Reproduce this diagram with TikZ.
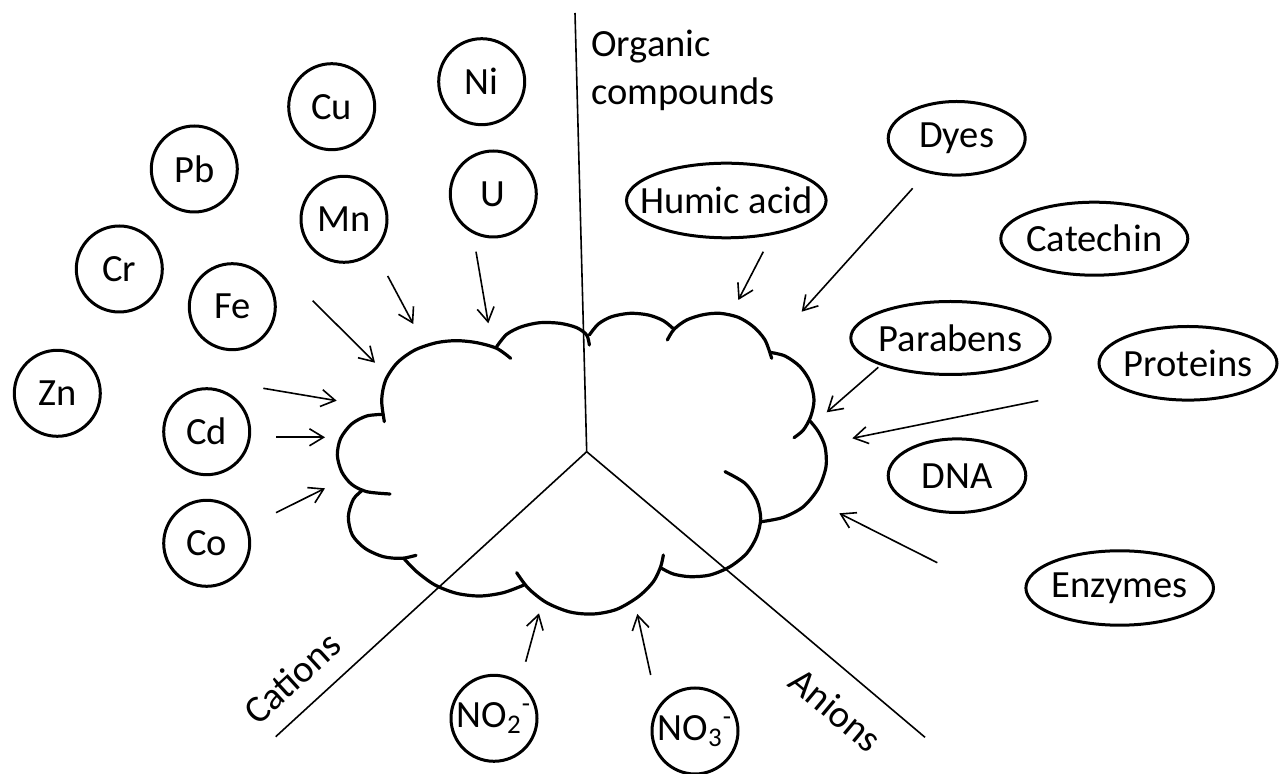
\documentclass[tikz,border=0pt]{standalone}
\usepackage{fontspec}
\setmainfont{Carlito}
\usetikzlibrary{arrows.meta,shapes.geometric}
\newcommand\mk[1]{\makebox[0pt]{#1}}
\begin{document}
\begin{tikzpicture}[x=0.5pt,y=-0.5pt,
  txt/.style={font=\fontsize{19.25}{23}\selectfont},
  elem/.style={circle, draw, line width=1.5pt, minimum size=43pt, inner sep=0pt, txt},
  org/.style={ellipse, draw, line width=1.5pt, inner sep=0pt, txt},
  lbl/.style={inner sep=0pt, txt},
  arr/.style={line width=0.8pt, -{Straight Barb[length=7pt,width=8.5pt]}},
  divider/.style={line width=0.8pt},
  cloudline/.style={line width=1.6pt, line cap=round}]
\path[fill=white] (0,0) rectangle (1281,774);
\useasboundingbox (0,0) rectangle (1281,774);

% cations
\node[elem] (Ni) at (481.7,81.7) {\mk{Ni}};
\node[elem] (Cu) at (331.7,106.7) {\mk{Cu}};
\node[elem] (Pb) at (194.3,169) {\mk{Pb}};
\node[elem] (Mn) at (344,219.3) {\mk{Mn}};
\node[elem] (U) at (493.3,194) {\mk{U}};
\node[elem] (Cr) at (119.3,269) {\mk{Cr}};
\node[elem] (Fe) at (232.3,306.7) {\mk{Fe}};
\node[elem] (Zn) at (57.3,393.3) {\mk{Zn}};
\node[elem] (Cd) at (206.7,431.7) {\mk{Cd}};
\node[elem] (Co) at (206.7,543.3) {\mk{Co}};
% anions
\node[elem] (NOtwo) at (494,718.3) {\mk{NO\textsubscript{2}\textsuperscript{-}}};
\node[elem] (NOthree) at (695,731) {\mk{NO\textsubscript{3}\textsuperscript{-}}};
% organic compounds
\node[org, minimum width=99.8pt, minimum height=37.3pt] (humic) at (726.3,200.5) {\mk{Humic acid}};
\node[org, minimum width=68.5pt, minimum height=36.8pt] (dyes) at (956.7,138.3) {\mk{Dyes}};
\node[org, minimum width=93.5pt, minimum height=36.5pt] (catechin) at (1094.3,238.7) {\mk{Catechin}};
\node[org, minimum width=99.7pt, minimum height=36.5pt] (parabens) at (950.5,338) {\mk{Parabens}};
\node[org, minimum width=89pt, minimum height=36.8pt] (proteins) at (1188,363.3) {\mk{Proteins}};
\node[org, minimum width=68.8pt, minimum height=36.8pt] (dna) at (957,475.7) {\mk{DNA}};
\node[org, minimum width=93.8pt, minimum height=37.2pt] (enzymes) at (1119.7,588) {\mk{Enzymes}};

% sector labels
\node[lbl, anchor=base west] (orgA) at (591,57) {Organic};
\node[lbl, anchor=base west] (orgB) at (591,105) {compounds};
\node[lbl, rotate=42.5] (cations) at (292,678) {Cations};
\node[lbl, rotate=-40] (anions) at (836,710) {Anions};

% dividing lines
\coordinate (hub) at (586.7,451.7);
\coordinate (topEnd) at (575,13);
\coordinate (catEnd) at (275.7,736.7);
\coordinate (anEnd) at (925,737.3);
\draw[divider] (hub) -- (topEnd);
\draw[divider] (hub) -- (catEnd);
\draw[divider] (hub) -- (anEnd);

% arrows
\foreach \n/\sx/\sy/\ex/\ey in {
  fe/312.7/300.7/375/362.7,
  mn/387.7/276/413.3/324,
  u/476/251.7/488.3/323.3,
  cdA/263.3/388.3/336.7/400.7,
  cdB/276/437.3/325/437.3,
  co/276/512.7/325/488.3,
  hu/763.3/251.7/738.3/300,
  dy/912.7/188.3/801.7/311.7,
  pa/878.3/367.3/826.7/412.3,
  pr/1038.3/400.7/852.3/438.3,
  en/937.3/562.7/839.3/513.3,
  ntwo/525.7/661.7/539/613.3,
  nthree/650.7/675/637.3/614}{
  \coordinate (s-\n) at (\sx,\sy);
  \coordinate (e-\n) at (\ex,\ey);
  \draw[arr] (s-\n) -- (e-\n);
}

% cloud
\begin{scope}[x=0.1666667pt, y=-0.1666667pt, shift={(160pt,-150pt)}]
\draw[cloudline] plot[smooth] coordinates {(190,343) (140,348) (95,372) (62,415) (52,465) (65,515) (95,553) (140,575) (210,582)};
\draw[cloudline] plot[smooth] coordinates {(128,570) (100,598) (85,650) (97,705) (135,745) (190,770) (245,775) (288,766)};
\draw[cloudline] plot[smooth] coordinates {(252,776) (290,815) (345,855) (410,880) (480,888) (550,878) (612,855)};
\draw[cloudline] plot[smooth] coordinates {(590,818) (625,865) (680,908) (750,936) (820,942) (890,928) (955,890) (1000,845) (1022,800) (1030,765)};
\draw[cloudline] plot[smooth] coordinates {(1025,805) (1060,822) (1110,830) (1170,825) (1230,800) (1280,760) (1310,710) (1322,655) (1310,600) (1275,550) (1215,515)};
\draw[cloudline] plot[smooth] coordinates {(1325,665) (1390,652) (1450,620) (1495,565) (1518,500) (1515,440) (1495,395) (1470,363)};
\draw[cloudline] plot[smooth] coordinates {(1350,157) (1395,168) (1440,200) (1470,245) (1482,300) (1472,350) (1450,390) (1422,413)};
\draw[cloudline] plot[smooth] coordinates {(1042,120) (1062,88) (1100,60) (1150,44) (1200,40) (1255,52) (1300,80) (1335,120) (1355,175)};
\draw[cloudline] plot[smooth] coordinates {(808,105) (835,72) (875,50) (930,40) (985,45) (1030,62) (1062,88)};
\draw[cloudline] plot[smooth] coordinates {(530,140) (560,103) (605,80) (660,68) (720,70) (770,83) (800,105) (808,135)};
\draw[cloudline] plot[smooth] coordinates {(193,365) (185,300) (197,240) (232,188) (285,150) (350,128) (410,122) (470,128) (530,145) (572,175)};
\end{scope}
\end{tikzpicture}
\end{document}
